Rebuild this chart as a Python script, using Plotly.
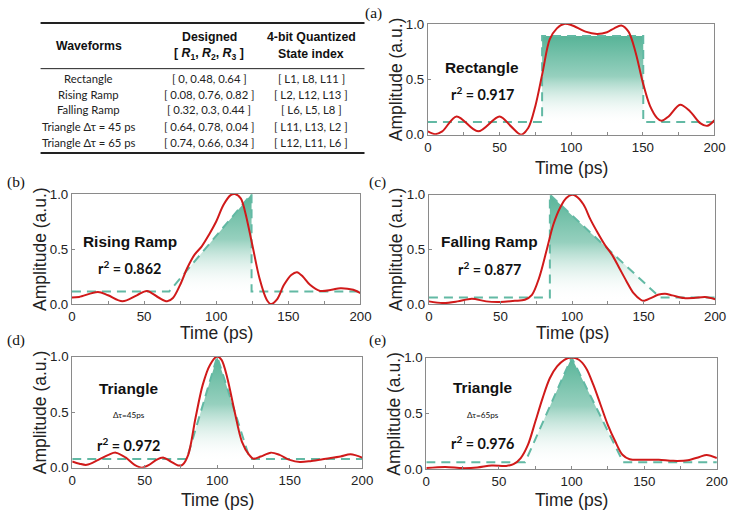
import plotly.graph_objects as go

W, H = 746, 512

# ---- table data ----
table_header = ["<b>Waveforms</b>", "<b>Designed</b>", "<b>4-bit Quantized</b>"]
table_header2 = ["", "<b>[ <i>R</i><sub>1</sub>, <i>R</i><sub>2</sub>, <i>R</i><sub>3</sub> ]</b>", "<b>State index</b>"]
waveforms = ["Rectangle", "Rising Ramp", "Falling Ramp", "Triangle Δτ = 45 ps", "Triangle Δτ = 65 ps"]
designed = ["[ 0, 0.48, 0.64 ]", "[ 0.08, 0.76, 0.82 ]", "[ 0.32, 0.3, 0.44 ]",
            "[ 0.64, 0.78, 0.04 ]", "[ 0.74, 0.66, 0.34 ]"]
state_index = ["[ L1, L8, L11 ]", "[ L2, L12, L13 ]", "[ L6, L5, L8 ]",
               "[ L11, L13, L2 ]", "[ L12, L11, L6 ]"]

# ---- target (designed) waveforms ----
rect_t = [0, 79.7, 79.7, 150.3, 150.3, 200]
rect_y = [0.115, 0.115, 0.89, 0.89, 0.115, 0.115]
rise_t = [0, 67.4, 124.5, 124.5, 200]
rise_y = [0.115, 0.115, 1.0, 0.115, 0.115]
fall_t = [0, 84.5, 84.5, 161.5, 200]
fall_y = [0.06, 0.06, 1.0, 0.06, 0.06]
tri45_t = [0, 79, 100, 122.5, 200]
tri45_y = [0.078, 0.078, 1.0, 0.078, 0.078]
tri65_t = [0, 68, 100, 135.5, 200]
tri65_y = [0.063, 0.063, 1.0, 0.063, 0.063]

# ---- measured waveforms ----
rect_meas_t = [0, 5, 10, 20, 35, 50, 58, 65, 70, 75, 80, 85, 90, 95, 100, 110, 118, 125, 130, 135,
               140, 145, 150, 155, 160, 163, 168, 176, 183, 190, 195, 200]
rect_meas_y = [0.03, 0.005, 0.03, 0.165, 0.03, 0.165, 0.075, 0.0, 0.06, 0.26, 0.56, 0.86, 0.96, 1.0,
               0.99, 0.93, 0.91, 0.925, 0.96, 0.985, 0.93, 0.74, 0.47, 0.26, 0.15, 0.125, 0.165, 0.27,
               0.21, 0.105, 0.08, 0.13]
rise_meas_t = [0, 5, 18, 25, 35, 45, 52, 60, 66, 70, 75, 80, 85, 90, 95, 100, 105, 110, 113, 117, 120,
               125, 130, 135, 138, 142, 147, 152, 156, 160, 165, 172, 180, 186, 195, 200]
rise_meas_y = [0.06, 0.065, 0.11, 0.08, 0.025, 0.08, 0.12, 0.06, 0.025, 0.055, 0.175, 0.33, 0.45,
               0.525, 0.63, 0.75, 0.9, 0.99, 1.0, 0.96, 0.84, 0.54, 0.235, 0.04, 0.0, 0.04, 0.175,
               0.265, 0.29, 0.25, 0.175, 0.12, 0.13, 0.145, 0.13, 0.1]
fall_meas_t = [0, 10, 20, 30, 40, 50, 60, 67, 72, 77, 82, 87, 92, 96, 100, 103, 108, 113, 118, 123,
               128, 133, 138, 143, 148, 150, 155, 160, 165, 170, 178, 185, 193, 200]
fall_meas_y = [0.025, 0.01, 0.025, 0.05, 0.025, 0.02, 0.03, 0.04, 0.085, 0.24, 0.48, 0.73, 0.89,
               0.97, 1.0, 0.985, 0.91, 0.77, 0.65, 0.54, 0.45, 0.33, 0.21, 0.1, 0.04, 0.03, 0.055,
               0.085, 0.095, 0.08, 0.055, 0.055, 0.065, 0.045]
tri45_meas_t = [0, 5, 10, 18, 25, 30, 37, 43, 48, 53, 58, 63, 68, 73, 76, 80, 85, 90, 95, 100, 103,
                107, 112, 117, 122, 125, 130, 137, 143, 150, 157, 165, 175, 185, 192, 200]
tri45_meas_y = [0.055, 0.035, 0.025, 0.07, 0.115, 0.135, 0.09, 0.025, 0.0, 0.025, 0.07, 0.09, 0.055,
                0.02, 0.025, 0.115, 0.445, 0.745, 0.925, 1.0, 0.97, 0.805, 0.505, 0.235, 0.115, 0.08,
                0.1, 0.135, 0.115, 0.07, 0.05, 0.06, 0.08, 0.1, 0.12, 0.09]
tri65_meas_t = [0, 13, 25, 35, 45, 55, 60, 65, 70, 75, 80, 85, 90, 95, 100, 105, 110, 115, 120, 125,
                130, 135, 140, 150, 160, 170, 180, 188, 193, 200]
tri65_meas_y = [0.01, 0.02, 0.01, 0.015, 0.033, 0.03, 0.045, 0.1, 0.22, 0.425, 0.635, 0.815, 0.92,
                0.98, 1.0, 0.98, 0.905, 0.755, 0.575, 0.395, 0.25, 0.13, 0.09, 0.085, 0.085, 0.075,
                0.08, 0.11, 0.128, 0.1]

panel_names = ["Rectangle", "Rising Ramp", "Falling Ramp", "Triangle", "Triangle"]
panel_r2 = ["0.917", "0.862", "0.877", "0.972", "0.976"]
panel_dtau = ["", "", "", "Δτ=45ps", "Δτ=65ps"]
panel_letters = ["(a)", "(b)", "(c)", "(d)", "(e)"]
targets = [(rect_t, rect_y), (rise_t, rise_y), (fall_t, fall_y), (tri45_t, tri45_y), (tri65_t, tri65_y)]
measured = [(rect_meas_t, rect_meas_y), (rise_meas_t, rise_meas_y), (fall_meas_t, fall_meas_y),
            (tri45_meas_t, tri45_meas_y), (tri65_meas_t, tri65_meas_y)]

# * plot areas in pixels of the reference picture: left, right, top, bottom
boxes = [(428.3, 714.3, 24.3, 135), (73, 361, 194.3, 304.3), (429.3, 715, 195, 304.3),
         (73.3, 362.7, 356.7, 467.7), (426.7, 716.7, 357.7, 469.3)]
time_label_y = [168, 333, 333, 500, 500]
letter_pos = [(374, 13), (17, 182), (378, 182), (17, 340), (378, 340)]
# * text positions in data units: (x, y_name, y_dtau, y_r2)
text_pos = [(38, 0.61, None, 0.37), (40, 0.57, None, 0.33), (42.5, 0.57, None, 0.33),
            (39, 0.71, 0.47, 0.21), (39, 0.73, 0.487, 0.235)]

RED = "#d01a1a"
TEAL = "#62b9a4"
SANS = "Liberation Sans"
CAL = "Lato"

# * the photographed page comes out slightly shrunk; undo it (measured on earlier runs)
SX, CX = 0.978, 5.2
SY, CY = 0.970, 7.4
FS = 1.0 / 0.974

def px(p):
    return ((p - CX) / SX) / W

def py(p):
    return 1 - ((p - CY) / SY) / H

def fnt(family, size, color="#111"):
    return dict(family=family, size=round(size * FS, 1), color=color)

def note(text, x, y, font, xref="paper", yref="paper", **kw):
    return dict(text=text, xref=xref, yref=yref, x=x, y=y, showarrow=False,
                xanchor="center", yanchor="middle", font=font, **kw)

fig = go.Figure()
annotations = []
shapes = []

for i in range(5):
    xa = "x" if i == 0 else f"x{i + 1}"
    ya = "y" if i == 0 else f"y{i + 1}"
    tt, ty = targets[i]
    mt, my = measured[i]
    base = ty[0]
    # * gradient fill under the designed waveform
    fig.add_trace(go.Scatter(
        x=tt, y=ty, xaxis=xa, yaxis=ya, mode="lines", line=dict(width=0),
        fill="tozeroy",
        fillgradient=dict(type="vertical", start=base, stop=max(ty),
                          colorscale=[[0, "rgba(255,255,255,0)"], [0.55, "rgba(150,208,190,1)"],
                                      [1, "rgba(88,180,152,1)"]]),
        showlegend=False, hoverinfo="skip",
    ))
    fig.add_trace(go.Scatter(
        x=tt, y=ty, xaxis=xa, yaxis=ya, mode="lines",
        line=dict(color=TEAL, width=2, dash="9px,6px"), showlegend=False,
    ))
    fig.add_trace(go.Scatter(
        x=mt, y=my, xaxis=xa, yaxis=ya, mode="lines",
        line=dict(color=RED, width=2, shape="spline", smoothing=0.9), showlegend=False,
    ))

    l, r, t, b = boxes[i]
    axis_common = dict(showgrid=False, zeroline=False, showline=True, linecolor="#8a8a8a",
                       linewidth=1, mirror=True, ticks="inside", ticklen=3, tickcolor="#8a8a8a",
                       tickfont=fnt(SANS, 13, "#222"))
    fig.update_layout({
        ("xaxis" if i == 0 else f"xaxis{i + 1}"): dict(
            axis_common, domain=[px(l), px(r)], anchor=ya, range=[0, 200],
            tickvals=[0, 50, 100, 150, 200],
            minor=dict(tickvals=[25, 75, 125, 175], ticks="inside", ticklen=3, tickcolor="#8a8a8a")),
        ("yaxis" if i == 0 else f"yaxis{i + 1}"): dict(
            axis_common, domain=[py(b), py(t)], anchor=xa, range=[0, 1.0],
            tickvals=[0, 0.5, 1.0], tickformat=".1f"),
    })

    # * axis titles
    title_font = fnt(SANS, 17, "#222")
    annotations.append(note("Amplitude (a.u.)", px(l - 32), py((t + b) / 2), title_font, textangle=-90))
    annotations.append(note("Time (ps)", px((l + r) / 2), py(time_label_y[i]), title_font))
    # * panel letter
    lx, ly = letter_pos[i]
    annotations.append(note(panel_letters[i], px(lx), py(ly), fnt("Liberation Serif", 15)))
    # * labels inside the panel
    tx, yn, yd, yr = text_pos[i]
    annotations.append(note(f"<b>{panel_names[i]}</b>", tx, yn, fnt(SANS, 15), xref=xa, yref=ya))
    if yd is not None:
        annotations.append(note(panel_dtau[i], tx, yd, fnt(CAL, 8), xref=xa, yref=ya))
    annotations.append(note(f"<b>r<sup>2</sup> = {panel_r2[i]}</b>", tx, yr, fnt(CAL, 14),
                            xref=xa, yref=ya))

# * table
col_x = [90, 210, 312]
head_font = fnt(SANS, 12)
annotations.append(note(table_header[0], px(col_x[0]), py(46), head_font))
for c in (1, 2):
    annotations.append(note(table_header[c], px(col_x[c]), py(37), head_font))
    annotations.append(note(table_header2[c], px(col_x[c]), py(54), head_font))
row_y = [79.3, 94.5, 110, 126.5, 143]
row_font = fnt(CAL, 11, "#222")
for k in range(len(waveforms)):
    for c, col in enumerate([waveforms, designed, state_index]):
        annotations.append(note(col[k], px(col_x[c]), py(row_y[k]), row_font))
for yy, wd in [(23.3, 2), (69, 1), (153.3, 2)]:
    shapes.append(dict(type="line", xref="paper", yref="paper", x0=px(41.7), x1=px(365),
                       y0=py(yy), y1=py(yy), line=dict(color="#222", width=wd)))

fig.update_layout(
    width=W, height=H, margin=dict(l=0, r=0, t=0, b=0),
    paper_bgcolor="white", plot_bgcolor="white",
    annotations=annotations, shapes=shapes, showlegend=False,
)

# * page body margin removed so the 746x512 figure fills the window exactly
fig.write_html("out.html", config={"displayModeBar": False},
               post_script="document.body.style.margin='0';document.body.style.overflow='hidden';")
